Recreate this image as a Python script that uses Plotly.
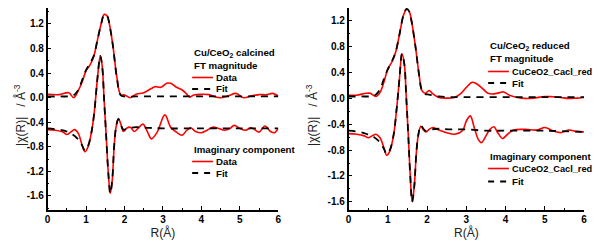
import plotly.graph_objects as go

# ---------------- data ----------------
# Left panel: Cu/CeO2 calcined
calc_mag_R = [0, 0.3, 0.55, 0.68, 0.8, 0.9, 1.0, 1.1, 1.2, 1.3, 1.4, 1.47, 1.55, 1.6, 1.7, 1.8, 1.9, 2.0,
              2.15, 2.3, 2.5, 2.7, 2.8, 2.95, 3.1, 3.2, 3.35, 3.5, 3.6, 3.7, 3.8, 4.0, 4.2, 4.35, 4.5,
              4.7, 4.9, 5.1, 5.3, 5.5, 5.7, 5.85, 6.0]
calc_mag_data = [0.055, 0.05, 0.08, 0.0, 0.12, 0.26, 0.44, 0.53, 0.67, 0.95, 1.22, 1.355, 1.33, 1.22, 0.84,
                 0.34, 0.05, 0.045, 0.0, 0.055, 0.08, 0.15, 0.18, 0.17, 0.235, 0.235, 0.17, 0.125, 0.07,
                 0.01, 0.045, 0.055, 0.05, 0.015, 0.0, 0.03, 0.07, 0.0, 0.03, 0.05, 0.05, 0.07, 0.03]
calc_mag_fit_R = [0, 0.3, 0.6, 0.7, 0.8, 0.9, 1.0, 1.1, 1.2, 1.3, 1.4, 1.47, 1.55, 1.6, 1.7, 1.8, 1.9,
                  2.0, 2.3, 3.0, 4.0, 5.0, 6.0]
calc_mag_fit = [0.02, 0.02, 0.025, 0.05, 0.13, 0.29, 0.45, 0.56, 0.68, 0.95, 1.22, 1.35, 1.33, 1.22, 0.84,
                0.33, 0.04, 0.02, 0.02, 0.02, 0.02, 0.02, 0.02]

calc_im_R = [0, 0.2, 0.4, 0.5, 0.6, 0.7, 0.8, 0.9, 0.97, 1.05, 1.15, 1.22, 1.3, 1.37, 1.42, 1.47, 1.52,
             1.58, 1.63, 1.68, 1.73, 1.78, 1.84, 1.9, 1.97, 2.05, 2.15, 2.25, 2.35, 2.48, 2.6, 2.7, 2.85,
             3.05, 3.2, 3.35, 3.5, 3.62, 3.72, 3.85, 4.0, 4.15, 4.3, 4.45, 4.6, 4.75, 4.85, 5.0, 5.15,
             5.3, 5.5, 5.65, 5.8, 5.9, 6.0]
calc_im_data = [-0.52, -0.53, -0.56, -0.6, -0.56, -0.52, -0.585, -0.78, -0.88, -0.8, -0.53, -0.2, 0.34,
                0.68, 0.51, -0.04, -0.585, -1.24, -1.56, -1.35, -0.8, -0.48, -0.34, -0.42, -0.55, -0.5,
                -0.48, -0.55, -0.5, -0.43, -0.56, -0.67, -0.56, -0.28, -0.48, -0.56, -0.61, -0.53, -0.49,
                -0.55, -0.57, -0.53, -0.48, -0.5, -0.53, -0.5, -0.45, -0.5, -0.53, -0.49, -0.56, -0.46,
                -0.55, -0.57, -0.5]
calc_im_fit_R = [0, 0.3, 0.5, 0.65, 0.8, 0.9, 0.97, 1.05, 1.15, 1.22, 1.3, 1.37, 1.42, 1.47, 1.52, 1.58,
                 1.63, 1.68, 1.73, 1.78, 1.84, 1.9, 1.97, 2.1, 2.3, 2.6, 3.0, 4.0, 5.0, 6.0]
calc_im_fit = [-0.5, -0.52, -0.55, -0.6, -0.68, -0.78, -0.86, -0.79, -0.53, -0.2, 0.34, 0.68, 0.51, -0.04,
               -0.585, -1.24, -1.56, -1.35, -0.8, -0.48, -0.35, -0.43, -0.52, -0.5, -0.48, -0.49, -0.5,
               -0.5, -0.5, -0.5]

# Right panel: Cu/CeO2 reduced
red_mag_R = [0, 0.2, 0.45, 0.55, 0.7, 0.8, 0.9, 1.0, 1.1, 1.2, 1.3, 1.4, 1.48, 1.55, 1.6, 1.7, 1.8, 1.87,
             1.95, 2.05, 2.15, 2.3, 2.5, 2.7, 2.85, 3.0, 3.15, 3.25, 3.4, 3.55, 3.7, 3.85, 3.95, 4.1, 4.3,
             4.5, 4.7, 5.0, 5.2, 5.4, 5.6, 5.8, 6.0]
red_mag_data = [0.05, 0.05, 0.08, 0.08, 0.03, 0.09, 0.25, 0.46, 0.56, 0.72, 1.0, 1.29, 1.385, 1.34, 1.21,
                0.82, 0.35, 0.12, 0.08, 0.12, 0.07, 0.015, 0.005, 0.015, 0.07, 0.17, 0.25, 0.23, 0.16,
                0.08, 0.07, 0.09, 0.1, 0.05, 0.015, 0.0, 0.005, 0.03, 0.025, 0.015, 0.0, 0.005, 0.015]
red_mag_fit_R = [0, 0.3, 0.6, 0.7, 0.8, 0.9, 1.0, 1.1, 1.2, 1.3, 1.4, 1.48, 1.55, 1.6, 1.7, 1.8, 1.87,
                 1.95, 2.05, 2.3, 3.0, 4.0, 5.0, 6.0]
red_mag_fit = [0.03, 0.03, 0.035, 0.06, 0.14, 0.3, 0.45, 0.57, 0.72, 1.0, 1.29, 1.385, 1.34, 1.21, 0.82,
               0.35, 0.12, 0.07, 0.06, 0.03, 0.02, 0.02, 0.02, 0.02]

red_im_R = [0, 0.2, 0.4, 0.5, 0.6, 0.7, 0.8, 0.9, 0.97, 1.05, 1.15, 1.22, 1.3, 1.36, 1.42, 1.47, 1.52,
            1.57, 1.62, 1.67, 1.73, 1.78, 1.84, 1.9, 1.97, 2.05, 2.15, 2.3, 2.5, 2.7, 2.9, 3.0, 3.1, 3.2,
            3.3, 3.38, 3.5, 3.6, 3.7, 3.8, 3.92, 4.05, 4.2, 4.5, 4.8, 5.0, 5.2, 5.4, 5.6, 5.8, 6.0]
red_im_data = [-0.545, -0.555, -0.58, -0.61, -0.58, -0.555, -0.61, -0.76, -0.88, -0.815, -0.555, -0.19,
               0.33, 0.69, 0.535, 0.015, -0.555, -1.18, -1.6, -1.39, -0.815, -0.555, -0.43, -0.48, -0.52,
               -0.48, -0.45, -0.49, -0.53, -0.555, -0.5, -0.35, -0.27, -0.45, -0.63, -0.685, -0.58, -0.48,
               -0.44, -0.53, -0.62, -0.555, -0.49, -0.48, -0.49, -0.45, -0.5, -0.53, -0.49, -0.51, -0.52]
red_im_fit_R = [0, 0.3, 0.5, 0.65, 0.8, 0.9, 0.97, 1.05, 1.15, 1.22, 1.3, 1.36, 1.42, 1.47, 1.52, 1.57,
                1.62, 1.67, 1.73, 1.78, 1.84, 1.95, 2.1, 2.3, 2.6, 3.0, 3.5, 4.0, 5.0, 6.0]
red_im_fit = [-0.5, -0.52, -0.56, -0.6, -0.68, -0.78, -0.86, -0.8, -0.555, -0.19, 0.33, 0.69, 0.535, 0.015,
              -0.555, -1.18, -1.6, -1.39, -0.815, -0.555, -0.42, -0.5, -0.48, -0.47, -0.48, -0.48, -0.5,
              -0.5, -0.5, -0.52]

x_ticks = [0, 1, 2, 3, 4, 5, 6]
y_ticks = [-1.6, -1.2, -0.8, -0.4, 0.0, 0.4, 0.8, 1.2]
y_ticklabels = ["-1.6", "-1.2", "-0.8", "-0.4", "0.0", "0.4", "0.8", "1.2"]

# ---------------- figure ----------------
# the page body has an 8px margin; the figure fills the rest of the 602x243 window
OFF = 8
W, H = 602 - OFF, 243 - OFF
def PX(px):
    return (px - OFF) / W
def PY(py):
    return 1 - (py - OFF) / H

RED = "#ff0000"
fig = go.Figure()

def add_pair(xa, ya, R1, d1, R2, d2):
    fig.add_trace(go.Scatter(x=R1, y=d1, mode="lines", line=dict(color=RED, width=1.6, shape="spline"),
                             xaxis=xa, yaxis=ya, showlegend=False, hoverinfo="skip"))
    fig.add_trace(go.Scatter(x=R2, y=d2, mode="lines",
                             line=dict(color="black", width=1.8, dash="7px,6px", shape="spline"),
                             xaxis=xa, yaxis=ya, showlegend=False, hoverinfo="skip"))

add_pair("x", "y", calc_mag_R, calc_mag_data, calc_mag_fit_R, calc_mag_fit)
add_pair("x", "y", calc_im_R, calc_im_data, calc_im_fit_R, calc_im_fit)
add_pair("x2", "y2", red_mag_R, red_mag_data, red_mag_fit_R, red_mag_fit)
add_pair("x2", "y2", red_im_R, red_im_data, red_im_fit_R, red_im_fit)

FAM = "Liberation Sans, Arial, sans-serif"
tickfont = dict(family=FAM, size=10, color="black", weight="bold")
def xaxis(domain, anchor):
    return dict(domain=domain, anchor=anchor, range=[0, 6], tickvals=x_ticks, ticks="inside", ticklen=4,
                tickwidth=1.3, tickcolor="black", showline=True, linecolor="black", linewidth=1.5,
                showgrid=False, zeroline=False, tickfont=tickfont,
                minor=dict(dtick=0.5, tick0=0, ticks="inside", ticklen=2, tickwidth=1.2, tickcolor="black"),
                title=dict(text="R(Å)", font=dict(family=FAM, size=12, color="#222"), standoff=3))
def yaxis(domain, anchor, rng):
    return dict(domain=domain, anchor=anchor, range=rng, tickvals=y_ticks, ticktext=y_ticklabels,
                ticks="inside", ticklen=4, tickwidth=1.3, tickcolor="black", showline=True,
                linecolor="black", linewidth=1.5, showgrid=False, zeroline=False, tickfont=tickfont,
                minor=dict(dtick=0.2, tick0=0, ticks="inside", ticklen=2, tickwidth=1.2, tickcolor="black"))

ydom = [PY(209.5), PY(8)]
fig.update_layout(
    width=W, height=H, margin=dict(l=0, r=0, t=0, b=0),
    paper_bgcolor="white", plot_bgcolor="white",
    xaxis=xaxis([PX(45), PX(278)], "y"),
    yaxis=yaxis(ydom, "x", [-1.82, 1.46]),
    xaxis2=xaxis([PX(349), PX(587)], "y2"),
    yaxis2=yaxis(ydom, "x2", [-1.72, 1.40]),
)

# y axis titles
for xc in (17, 312):
    fig.add_annotation(x=PX(xc), y=PY(115), xref="paper", yref="paper",
                       text="|χ(R)|&nbsp;&nbsp; / Å<sup>-3</sup>", textangle=-90, showarrow=False,
                       xanchor="center", yanchor="middle", font=dict(family=FAM, size=12, color="#222"))

# ---------------- legend-like annotations ----------------
def txt(px, py, s, size=9.7):
    fig.add_annotation(x=PX(px), y=PY(py), xref="paper", yref="paper", text=s, showarrow=False,
                       xanchor="left", yanchor="middle",
                       font=dict(family=FAM, size=size, color="black", weight="bold"))
def sample(px0, px1, py, dashed):
    fig.add_shape(type="line", xref="paper", yref="paper", x0=PX(px0), x1=PX(px1), y0=PY(py), y1=PY(py),
                  line=dict(color="black" if dashed else RED, width=1.8 if dashed else 1.6,
                            dash="6px,6px" if dashed else "solid"))

def block(x0, ys, title_lines, data_label, data_size):
    for i, (y, t) in enumerate(zip(ys[:len(title_lines)], title_lines)):
        txt(x0, y + (2 if "<sub>" in t else 0), t)
    yd, yf = ys[len(title_lines)], ys[len(title_lines) + 1]
    sample(x0, x0 + 21, yd, False)
    txt(x0 + 22, yd, data_label, data_size)
    sample(x0, x0 + 21, yf, True)
    txt(x0 + 22, yf, "Fit")

block(191, [50.5, 65.5, 77.5, 89], ["Cu/CeO<sub>2</sub> calcined", "FT magnitude"], "Data", 9.7)
block(191, [149, 161.5, 173], ["Imaginary component"], "Data", 9.7)
block(490, [44, 59, 71.5, 83], ["Cu/CeO<sub>2</sub> reduced", "FT magnitude"], "CuCeO2_Cacl_red", 9.2)
block(490, [156, 168.5, 181.5], ["Imaginary component"], "CuCeO2_Cacl_red", 9.2)

fig.write_html("out.html")
